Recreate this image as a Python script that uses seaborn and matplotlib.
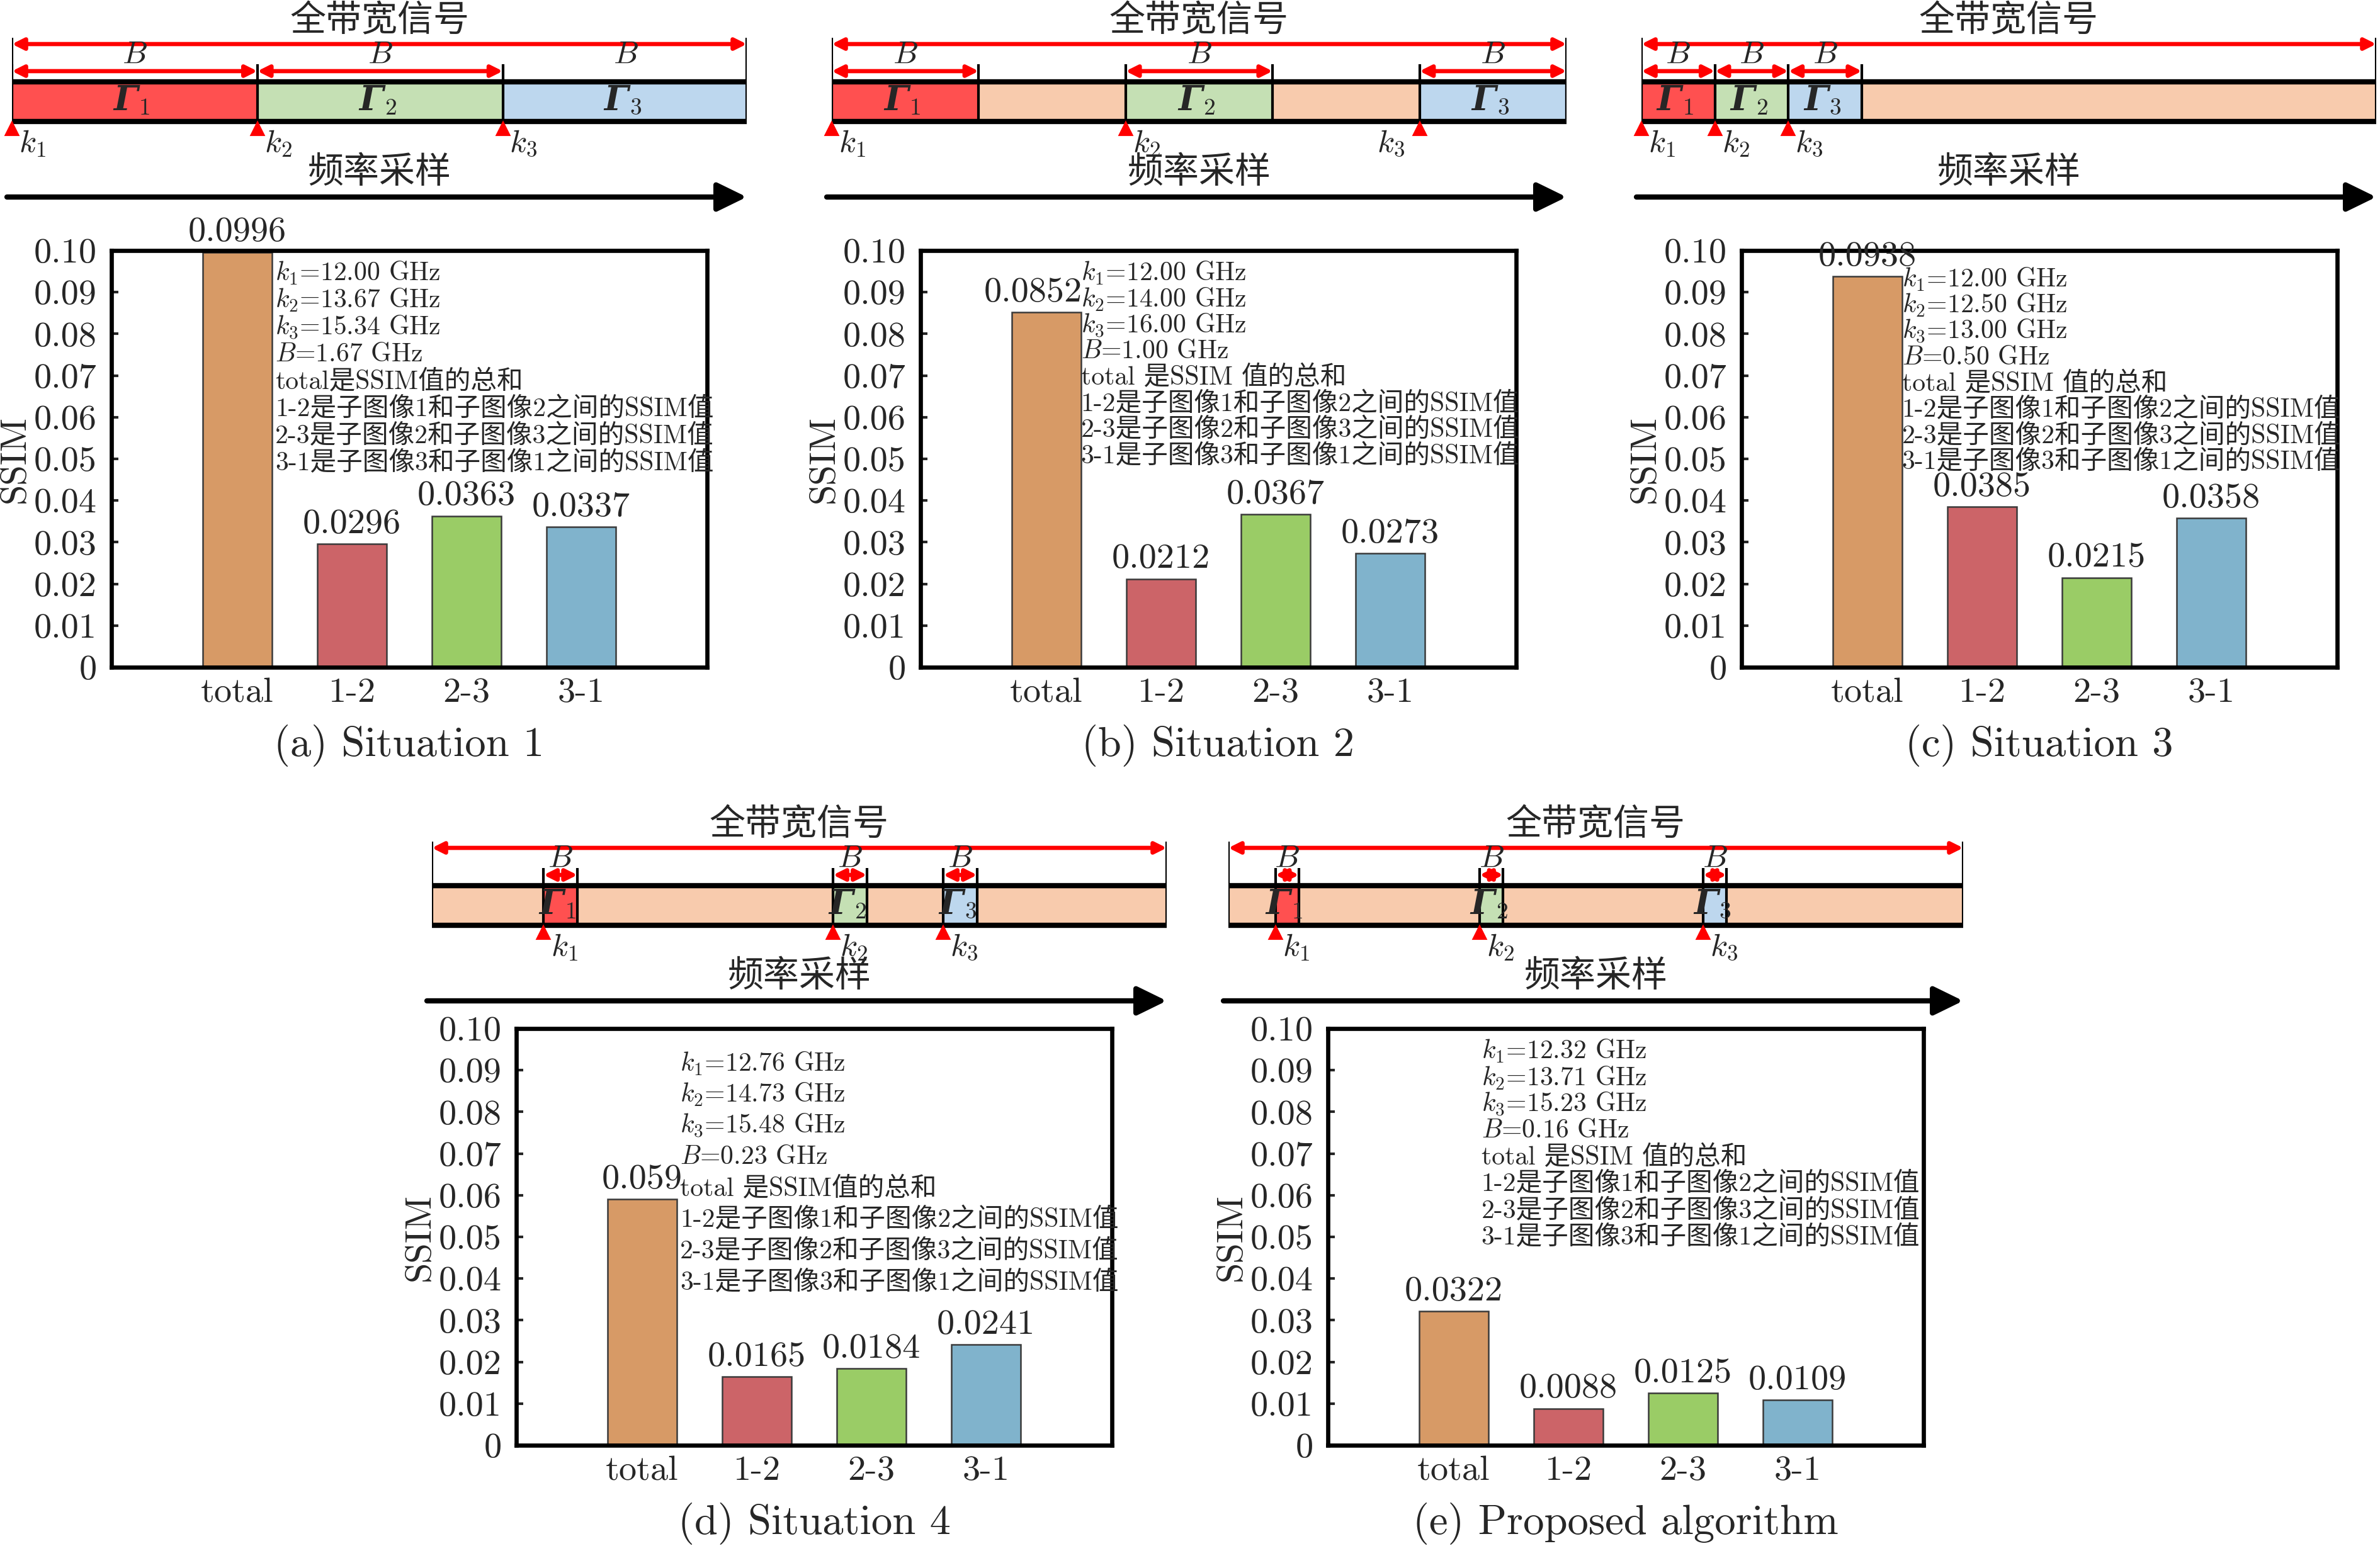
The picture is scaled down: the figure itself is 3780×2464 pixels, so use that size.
import numpy as np
import matplotlib
matplotlib.use("Agg")
import matplotlib.pyplot as plt
from matplotlib.patches import Rectangle
from matplotlib.ticker import FuncFormatter
import seaborn as sns

# === Data ===
categories = ["total", "1-2", "2-3", "3-1"]
ssim_a = [0.0996, 0.0296, 0.0363, 0.0337]
ssim_b = [0.0852, 0.0212, 0.0367, 0.0273]
ssim_c = [0.0938, 0.0385, 0.0215, 0.0358]
ssim_d = [0.059, 0.0165, 0.0184, 0.0241]
ssim_e = [0.0322, 0.0088, 0.0125, 0.0109]

k1_ghz = [12.00, 12.00, 12.00, 12.76, 12.32]
k2_ghz = [13.67, 14.00, 12.50, 14.73, 13.71]
k3_ghz = [15.34, 16.00, 13.00, 15.48, 15.23]
b_ghz = [1.67, 1.00, 0.50, 0.23, 0.16]
band_start, band_end = 12.0, 17.0

captions = ["(a) Situation 1", "(b) Situation 2", "(c) Situation 3",
            "(d) Situation 4", "(e) Proposed algorithm"]
total_desc = ["total是SSIM值的总和", "total 是SSIM 值的总和", "total 是SSIM 值的总和",
              "total 是SSIM值的总和", "total 是SSIM 值的总和"]
pair_desc = ["1-2是子图像1和子图像2之间的SSIM值",
             "2-3是子图像2和子图像3之间的SSIM值",
             "3-1是子图像3和子图像1之间的SSIM值"]

bar_colors = ["#D79A66", "#CC6468", "#9ACC66", "#80B3CC"]
seg_colors = ["#FF5050", "#C5E0B4", "#BDD7EE"]
band_color = "#F8CBAD"

# === Style ===
sns.set_style("ticks")
plt.rcParams["font.family"] = ["cmr10", "Noto Sans CJK SC"]
plt.rcParams["mathtext.fontset"] = "cm"
plt.rcParams["axes.unicode_minus"] = False
plt.rcParams["axes.formatter.use_mathtext"] = True

W, H = 3780, 2464
fig = plt.figure(figsize=(W / 300, H / 300), dpi=300)


def add_ax(x, y, w, h):
    return fig.add_axes([x / W, 1 - (y + h) / H, w / W, h / H])


# layout in full-size pixels
bar_ctr = [377, 1662, 2966, 1020, 2309]
bar_top = [398, 398, 398, 1634, 1634]
diag_left = [19, 1321, 2607, 686, 1951]
diag_top = [0, 0, 0, 1277, 1277]
k_side = [[1, 1, 1], [1, 1, -1.4], [1, 1, 1], [1, 1, 1], [1, 1, 1]]
ann_x = [0.33, 0.30, 0.30, 0.33, 0.24]
ann_y0 = [0.0945, 0.0945, 0.0931, 0.0916, 0.0945]
ann_dy = [0.0065, 0.00625, 0.00626, 0.0075, 0.00636]
label_shift = {(1, 0): -5.2}  # (panel, bar) -> x offset in points

all_ssim = [ssim_a, ssim_b, ssim_c, ssim_d, ssim_e]


def draw_diagram(ax, ks, B, side):
    ax.set_xlim(band_start, band_end)
    ax.set_ylim(340, 0)
    ax.axis("off")
    ax.add_patch(Rectangle((band_start, 130), band_end - band_start, 63,
                           fc=band_color, ec="none"))
    for k, c in zip(ks, seg_colors):
        ax.add_patch(Rectangle((k, 130), B, 63, fc=c, ec="none"))
    ax.hlines([130, 193], band_start, band_end, color="black", lw=2.0)
    ax.vlines([band_start, band_end], 60, 193, color="black", lw=1.0)
    edges = sorted(set([round(k, 3) for k in ks] + [round(k + B, 3) for k in ks]))
    ax.vlines(edges, 102, 193, color="black", lw=1.0)
    red = dict(arrowstyle="<|-|>", color="red", lw=1.6, mutation_scale=9,
               shrinkA=0, shrinkB=0)
    ax.annotate("", xy=(band_end, 70), xytext=(band_start, 70), arrowprops=red)
    for i, k in enumerate(ks):
        ax.annotate("", xy=(k + B, 113), xytext=(k, 113), arrowprops=red)
        ax.text(k + B / 2, 88, "$B$", fontsize=12, ha="center", va="center")
        ax.text(k + B / 2 + 0.02, 160, "Γ", family="DejaVu Serif", style="italic",
                weight="bold", fontsize=13, ha="right", va="center")
        ax.text(k + B / 2 + 0.03, 172, str(i + 1), fontsize=9, ha="left", va="center")
        ax.text(k + 0.14 * side[i], 228, r"$k_{%d}$" % (i + 1), fontsize=12,
                ha="center", va="center")
    ax.plot(ks, [205] * 3, ls="none", marker="^", ms=4.2, color="red", clip_on=False)
    mid = (band_start + band_end) / 2
    ax.text(mid, 33, "全带宽信号", fontsize=13.7, ha="center", va="center")
    ax.text(mid, 274, "频率采样", fontsize=13.7, ha="center", va="center")
    ax.annotate("", xy=(band_end, 313), xytext=(band_start - 0.034, 313),
                arrowprops=dict(arrowstyle="-|>,head_length=0.45,head_width=0.22",
                                color="black", lw=2.0, mutation_scale=21,
                                shrinkA=0, shrinkB=0))


for p in range(5):
    ks = [k1_ghz[p], k2_ghz[p], k3_ghz[p]]
    B = b_ghz[p]

    dax = add_ax(diag_left[p], diag_top[p], 1167, 340)
    draw_diagram(dax, ks, B, k_side[p])

    ax = add_ax(bar_ctr[p] - 1.1 * 182, bar_top[p], 5.2 * 182, 662)
    sns.barplot(x=categories, y=all_ssim[p], hue=categories, palette=bar_colors,
                saturation=1, legend=False, width=0.6, edgecolor="#3a3a3a",
                linewidth=0.6, ax=ax)
    for j, (cont, v) in enumerate(zip(ax.containers, all_ssim[p])):
        txts = ax.bar_label(cont, labels=["{:.4g}".format(v)], padding=1.5, fontsize=13.5)
        if (p, j) in label_shift:
            for t in txts:
                t.xyann = (label_shift[(p, j)], t.xyann[1])
    ax.set_xlim(-1.1, 4.1)
    ax.set_ylim(0, 0.1)
    ax.set_yticks(np.arange(0, 0.1001, 0.01))
    ax.yaxis.set_major_formatter(FuncFormatter(lambda v, pos: "0" if abs(v) < 1e-9 else f"{v:.2f}"))
    ax.tick_params(axis="y", direction="in", length=2.6, width=1.0, pad=5.5,
                   labelsize=13.5, right=False)
    ax.tick_params(axis="x", length=0, pad=4, labelsize=13.5)
    for s in ax.spines.values():
        s.set_linewidth(1.6)
        s.set_color("black")
    ax.set_xlabel("")
    ax.set_ylabel("SSIM", fontsize=14, labelpad=1)
    ax.text(0.5, -0.188, captions[p], transform=ax.transAxes, ha="center",
            va="center", fontsize=16)

    lines = [r"$k_1$=%.2f GHz" % ks[0], r"$k_2$=%.2f GHz" % ks[1],
             r"$k_3$=%.2f GHz" % ks[2], r"$B$=%.2f GHz" % B, total_desc[p]] + pair_desc
    for i, line in enumerate(lines):
        ax.text(ann_x[p], ann_y0[p] - i * ann_dy[p], line, fontsize=10,
                ha="left", va="center")

fig.savefig("out.png", dpi=300)
